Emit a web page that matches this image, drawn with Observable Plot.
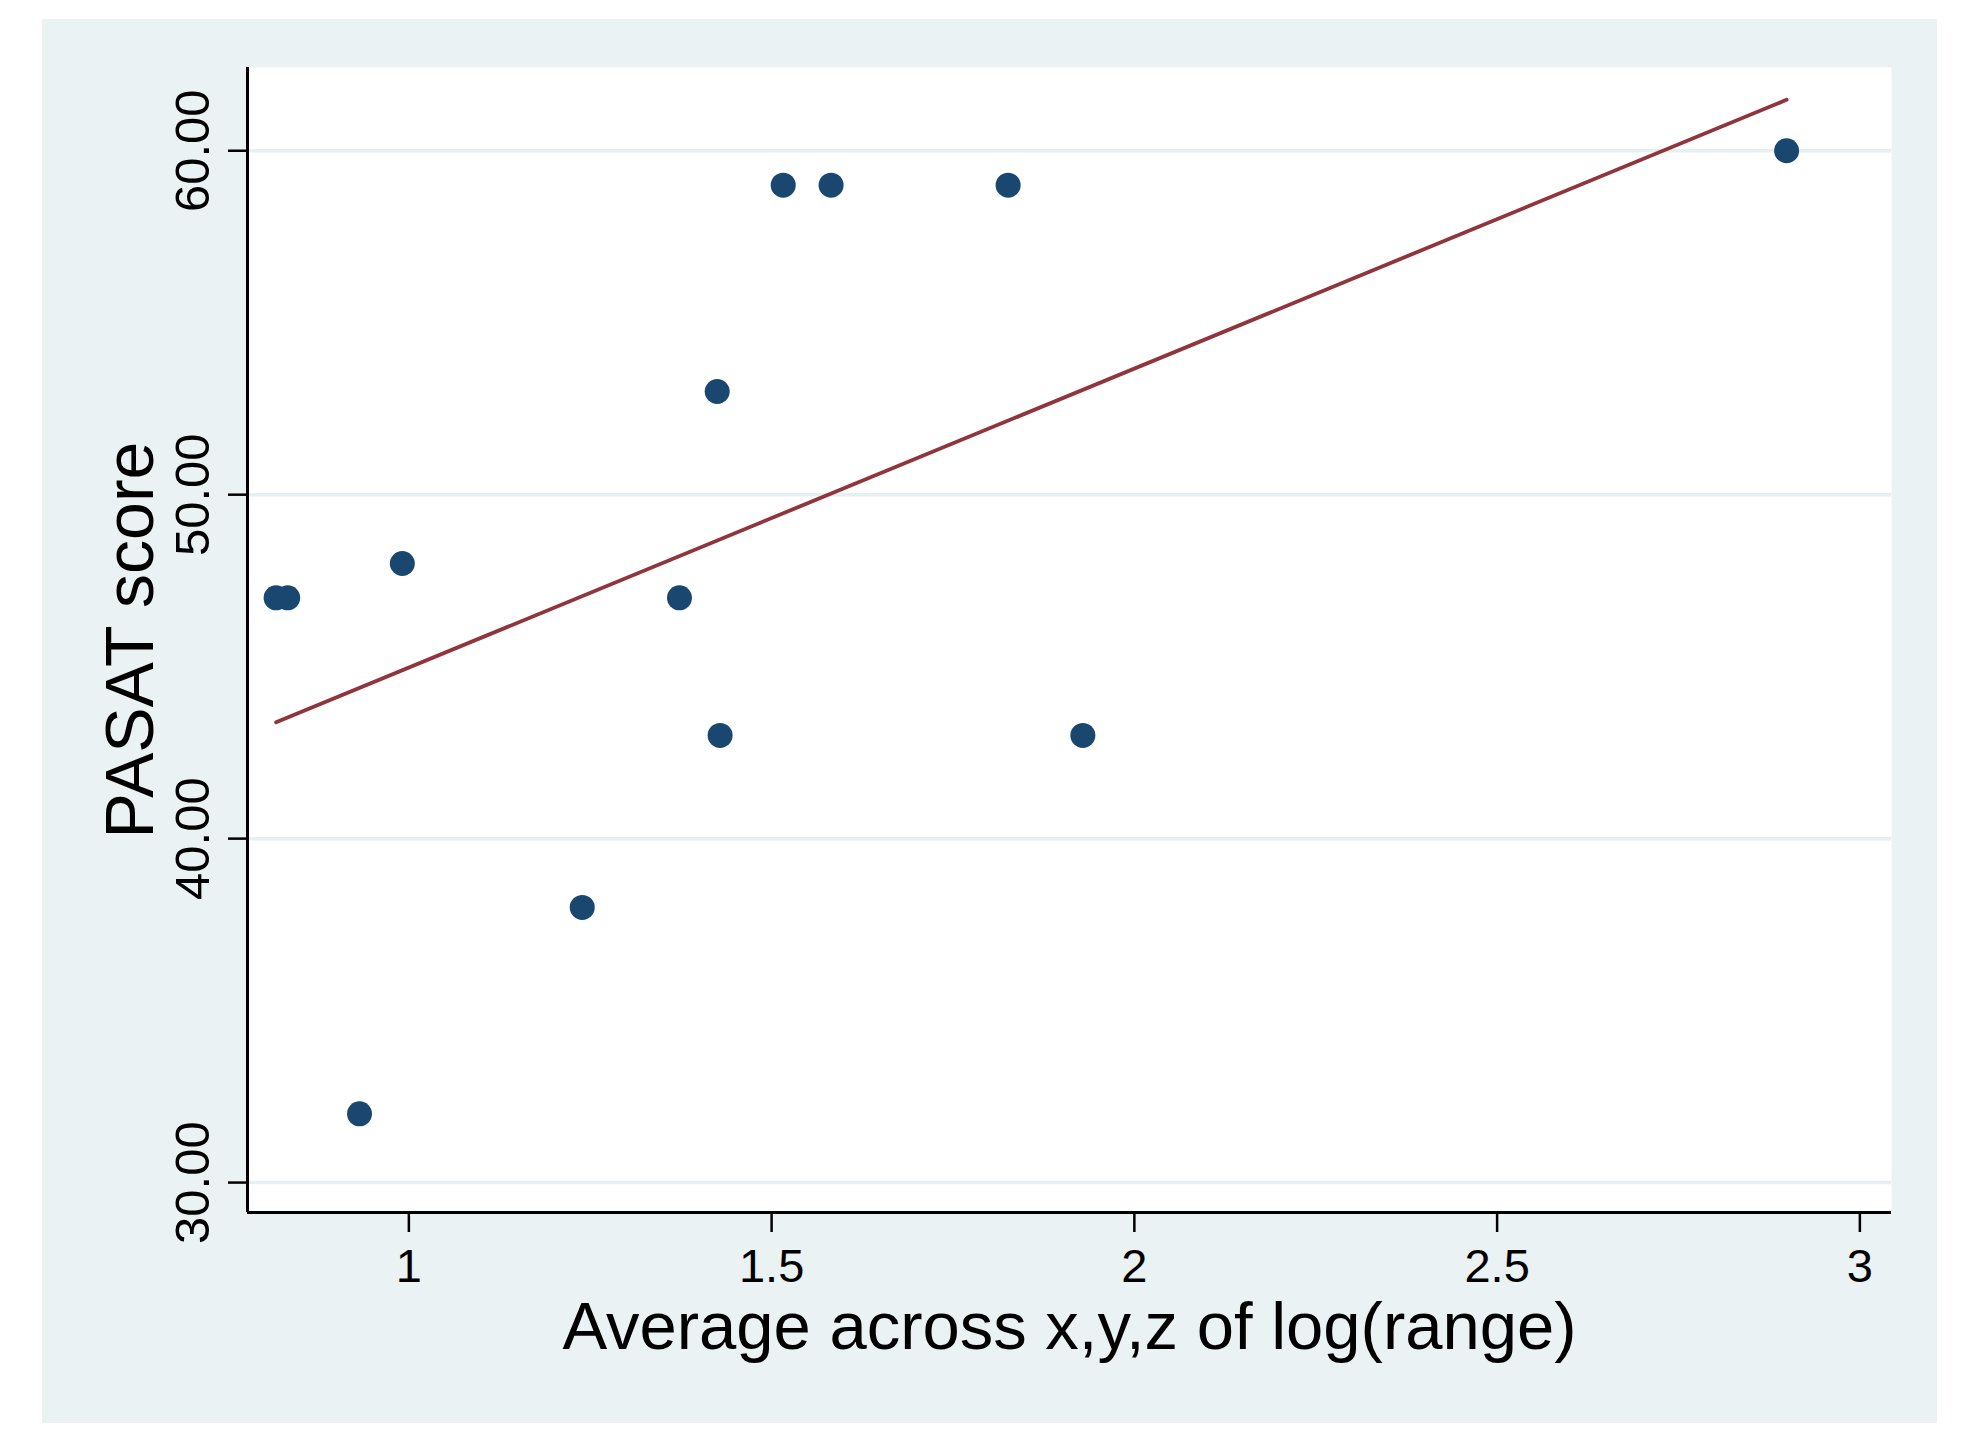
<!DOCTYPE html>
<html>
<head>
<meta charset="utf-8">
<script src="https://cdn.jsdelivr.net/npm/d3@7"></script>
<script src="https://cdn.jsdelivr.net/npm/@observablehq/plot@0.6"></script>
<style>
  html, body { margin: 0; padding: 0; background: #ffffff; }
  #wrap { position: absolute; left: 42px; top: 19px; width: 1895px; height: 1404px; }
</style>
</head>
<body>
<div id="wrap"></div>
<script>
// Data
const logRange = [0.817, 0.833, 0.932, 0.991, 1.239, 1.373, 1.425, 1.429, 1.516, 1.582, 1.826, 1.929, 2.899];
const pasat    = [47,    47,    32,    48,    38,    47,    53,    43,    59,    59,    59,    43,    60];
const xTicks = [1, 1.5, 2, 2.5, 3];
const yTicks = [30, 40, 50, 60];
const xDomain = [0.7776, 3.0436];
const yDomain = [29.13, 62.42];
const xTitle = "Average across x,y,z of log(range)";
const yTitle = "PASAT score";

const points = logRange.map((x, i) => ({x, y: pasat[i]}));

const chart = Plot.plot({
  width: 1895,
  height: 1404,
  marginLeft: 205,
  marginRight: 46,
  marginTop: 48,
  marginBottom: 211,
  x: {domain: xDomain},
  y: {domain: yDomain},
  style: {
    background: "#eaf2f3",
    fontFamily: "'Liberation Sans', Arial, Helvetica, sans-serif",
    color: "#000000"
  },
  marks: [
    Plot.frame({fill: "#ffffff", stroke: null}),
    Plot.gridY({ticks: yTicks, stroke: "#e6eff1", strokeOpacity: 1, strokeWidth: 3.5}),
    Plot.axisY({ticks: yTicks, tickFormat: d3.format(".2f"), tickRotate: -90, tickSize: 19, tickPadding: 20, fontSize: 49, strokeWidth: 2.5, label: null}),
    Plot.axisX({ticks: xTicks, tickFormat: d => String(d), tickSize: 20, tickPadding: 16, fontSize: 47, strokeWidth: 2.5, label: null}),
    Plot.ruleX([xDomain[0]], {stroke: "#000000", strokeWidth: 3}),
    Plot.ruleY([yDomain[0]], {stroke: "#000000", strokeWidth: 3}),
    Plot.linearRegressionY(points, {x: "x", y: "y", stroke: "#90353b", strokeWidth: 3.8, ci: 0}),
    Plot.dot(points, {x: "x", y: "y", r: 12.5, fill: "#1a476f", stroke: null}),
    Plot.text([yTitle], {frameAnchor: "left", rotate: -90, dx: -95, textAnchor: "middle", lineAnchor: "bottom", fontSize: 68, fill: "#000000"}),
    Plot.text([xTitle], {frameAnchor: "bottom", dy: 136, textAnchor: "middle", lineAnchor: "bottom", fontSize: 67, fill: "#000000"})
  ]
});
document.getElementById("wrap").appendChild(chart);
</script>
</body>
</html>
